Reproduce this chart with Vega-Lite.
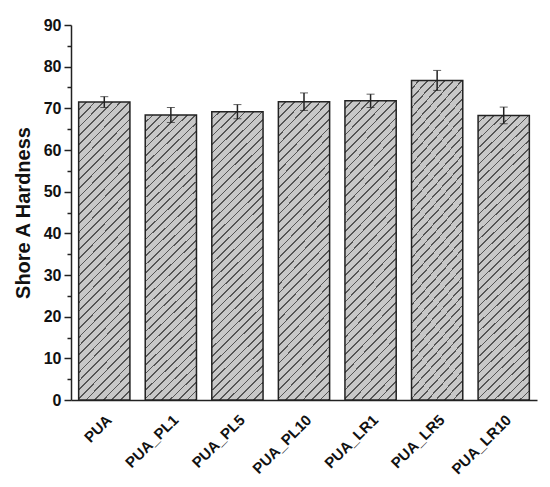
{
  "$schema": "https://vega.github.io/schema/vega-lite/v6.json",
  "width": 466,
  "height": 375,
  "autosize": {"type": "none"},
  "padding": {"left": 71, "top": 25, "right": 13, "bottom": 87},
  "background": "white",
  "config": {
    "view": {"stroke": null},
    "font": "Liberation Sans",
    "axis": {"labelFont": "Liberation Sans", "titleFont": "Liberation Sans", "labelColor": "#111", "titleColor": "#111", "domainColor": "#222", "tickColor": "#222", "grid": false}
  },
  "data": {
    "values": [
      {"sample": "PUA", "value": 71.5, "err": 1.3},
      {"sample": "PUA_PL1", "value": 68.4, "err": 1.8},
      {"sample": "PUA_PL5", "value": 69.2, "err": 1.7},
      {"sample": "PUA_PL10", "value": 71.6, "err": 2.1},
      {"sample": "PUA_LR1", "value": 71.8, "err": 1.6},
      {"sample": "PUA_LR5", "value": 76.7, "err": 2.4},
      {"sample": "PUA_LR10", "value": 68.3, "err": 2.0}
    ]
  },
  "resolve": {"axis": {"y": "independent"}},
  "layer": [
    {
      "mark": {
        "type": "bar",
        "stroke": "#222",
        "strokeWidth": 1.5,
        "fill": {
          "gradient": "linear", "x1": 0, "y1": 0, "x2": 0.2, "y2": 1.14,
          "stops": [
            {"offset":0,"color":"#c8c8c8"},{"offset":0.02,"color":"#c8c8c8"},{"offset":0.02,"color":"#555"},{"offset":0.025,"color":"#555"},
            {"offset":0.025,"color":"#c8c8c8"},{"offset":0.045,"color":"#c8c8c8"},{"offset":0.045,"color":"#555"},{"offset":0.05,"color":"#555"},
            {"offset":0.05,"color":"#c8c8c8"},{"offset":0.07,"color":"#c8c8c8"},{"offset":0.07,"color":"#555"},{"offset":0.075,"color":"#555"},
            {"offset":0.075,"color":"#c8c8c8"},{"offset":0.095,"color":"#c8c8c8"},{"offset":0.095,"color":"#555"},{"offset":0.1,"color":"#555"},
            {"offset":0.1,"color":"#c8c8c8"},{"offset":0.12,"color":"#c8c8c8"},{"offset":0.12,"color":"#555"},{"offset":0.125,"color":"#555"},
            {"offset":0.125,"color":"#c8c8c8"},{"offset":0.145,"color":"#c8c8c8"},{"offset":0.145,"color":"#555"},{"offset":0.15,"color":"#555"},
            {"offset":0.15,"color":"#c8c8c8"},{"offset":0.17,"color":"#c8c8c8"},{"offset":0.17,"color":"#555"},{"offset":0.175,"color":"#555"},
            {"offset":0.175,"color":"#c8c8c8"},{"offset":0.195,"color":"#c8c8c8"},{"offset":0.195,"color":"#555"},{"offset":0.2,"color":"#555"},
            {"offset":0.2,"color":"#c8c8c8"},{"offset":0.22,"color":"#c8c8c8"},{"offset":0.22,"color":"#555"},{"offset":0.225,"color":"#555"},
            {"offset":0.225,"color":"#c8c8c8"},{"offset":0.245,"color":"#c8c8c8"},{"offset":0.245,"color":"#555"},{"offset":0.25,"color":"#555"},
            {"offset":0.25,"color":"#c8c8c8"},{"offset":0.27,"color":"#c8c8c8"},{"offset":0.27,"color":"#555"},{"offset":0.275,"color":"#555"},
            {"offset":0.275,"color":"#c8c8c8"},{"offset":0.295,"color":"#c8c8c8"},{"offset":0.295,"color":"#555"},{"offset":0.3,"color":"#555"},
            {"offset":0.3,"color":"#c8c8c8"},{"offset":0.32,"color":"#c8c8c8"},{"offset":0.32,"color":"#555"},{"offset":0.325,"color":"#555"},
            {"offset":0.325,"color":"#c8c8c8"},{"offset":0.345,"color":"#c8c8c8"},{"offset":0.345,"color":"#555"},{"offset":0.35,"color":"#555"},
            {"offset":0.35,"color":"#c8c8c8"},{"offset":0.37,"color":"#c8c8c8"},{"offset":0.37,"color":"#555"},{"offset":0.375,"color":"#555"},
            {"offset":0.375,"color":"#c8c8c8"},{"offset":0.395,"color":"#c8c8c8"},{"offset":0.395,"color":"#555"},{"offset":0.4,"color":"#555"},
            {"offset":0.4,"color":"#c8c8c8"},{"offset":0.42,"color":"#c8c8c8"},{"offset":0.42,"color":"#555"},{"offset":0.425,"color":"#555"},
            {"offset":0.425,"color":"#c8c8c8"},{"offset":0.445,"color":"#c8c8c8"},{"offset":0.445,"color":"#555"},{"offset":0.45,"color":"#555"},
            {"offset":0.45,"color":"#c8c8c8"},{"offset":0.47,"color":"#c8c8c8"},{"offset":0.47,"color":"#555"},{"offset":0.475,"color":"#555"},
            {"offset":0.475,"color":"#c8c8c8"},{"offset":0.495,"color":"#c8c8c8"},{"offset":0.495,"color":"#555"},{"offset":0.5,"color":"#555"},
            {"offset":0.5,"color":"#c8c8c8"},{"offset":0.52,"color":"#c8c8c8"},{"offset":0.52,"color":"#555"},{"offset":0.525,"color":"#555"},
            {"offset":0.525,"color":"#c8c8c8"},{"offset":0.545,"color":"#c8c8c8"},{"offset":0.545,"color":"#555"},{"offset":0.55,"color":"#555"},
            {"offset":0.55,"color":"#c8c8c8"},{"offset":0.57,"color":"#c8c8c8"},{"offset":0.57,"color":"#555"},{"offset":0.575,"color":"#555"},
            {"offset":0.575,"color":"#c8c8c8"},{"offset":0.595,"color":"#c8c8c8"},{"offset":0.595,"color":"#555"},{"offset":0.6,"color":"#555"},
            {"offset":0.6,"color":"#c8c8c8"},{"offset":0.62,"color":"#c8c8c8"},{"offset":0.62,"color":"#555"},{"offset":0.625,"color":"#555"},
            {"offset":0.625,"color":"#c8c8c8"},{"offset":0.645,"color":"#c8c8c8"},{"offset":0.645,"color":"#555"},{"offset":0.65,"color":"#555"},
            {"offset":0.65,"color":"#c8c8c8"},{"offset":0.67,"color":"#c8c8c8"},{"offset":0.67,"color":"#555"},{"offset":0.675,"color":"#555"},
            {"offset":0.675,"color":"#c8c8c8"},{"offset":0.695,"color":"#c8c8c8"},{"offset":0.695,"color":"#555"},{"offset":0.7,"color":"#555"},
            {"offset":0.7,"color":"#c8c8c8"},{"offset":0.72,"color":"#c8c8c8"},{"offset":0.72,"color":"#555"},{"offset":0.725,"color":"#555"},
            {"offset":0.725,"color":"#c8c8c8"},{"offset":0.745,"color":"#c8c8c8"},{"offset":0.745,"color":"#555"},{"offset":0.75,"color":"#555"},
            {"offset":0.75,"color":"#c8c8c8"},{"offset":0.77,"color":"#c8c8c8"},{"offset":0.77,"color":"#555"},{"offset":0.775,"color":"#555"},
            {"offset":0.775,"color":"#c8c8c8"},{"offset":0.795,"color":"#c8c8c8"},{"offset":0.795,"color":"#555"},{"offset":0.8,"color":"#555"},
            {"offset":0.8,"color":"#c8c8c8"},{"offset":0.82,"color":"#c8c8c8"},{"offset":0.82,"color":"#555"},{"offset":0.825,"color":"#555"},
            {"offset":0.825,"color":"#c8c8c8"},{"offset":0.845,"color":"#c8c8c8"},{"offset":0.845,"color":"#555"},{"offset":0.85,"color":"#555"},
            {"offset":0.85,"color":"#c8c8c8"},{"offset":0.87,"color":"#c8c8c8"},{"offset":0.87,"color":"#555"},{"offset":0.875,"color":"#555"},
            {"offset":0.875,"color":"#c8c8c8"},{"offset":0.895,"color":"#c8c8c8"},{"offset":0.895,"color":"#555"},{"offset":0.9,"color":"#555"},
            {"offset":0.9,"color":"#c8c8c8"},{"offset":0.92,"color":"#c8c8c8"},{"offset":0.92,"color":"#555"},{"offset":0.925,"color":"#555"},
            {"offset":0.925,"color":"#c8c8c8"},{"offset":0.945,"color":"#c8c8c8"},{"offset":0.945,"color":"#555"},{"offset":0.95,"color":"#555"},
            {"offset":0.95,"color":"#c8c8c8"},{"offset":0.97,"color":"#c8c8c8"},{"offset":0.97,"color":"#555"},{"offset":0.975,"color":"#555"},
            {"offset":0.975,"color":"#c8c8c8"},{"offset":0.995,"color":"#c8c8c8"},{"offset":0.995,"color":"#555"},{"offset":1,"color":"#555"}
          ]
        }
      },
      "encoding": {
        "x": {
          "field": "sample", "type": "nominal", "sort": null,
          "scale": {"paddingInner": 0.23, "paddingOuter": 0.115},
          "axis": {"title": null, "labelAngle": -45, "labelAlign": "right", "labelBaseline": "top", "labelFontSize": 15, "labelFontWeight": "bold", "ticks": false, "labelPadding": 12, "domainWidth": 1.5}
        },
        "y": {
          "field": "value", "type": "quantitative",
          "scale": {"domain": [0, 90], "nice": false, "zero": true},
          "axis": {"title": "Shore A Hardness", "titleFontSize": 20, "titleFontWeight": "bold", "titlePadding": 10, "values": [0, 10, 20, 30, 40, 50, 60, 70, 80, 90], "labelFontSize": 16, "labelFontWeight": "bold", "tickSize": 7, "tickWidth": 1.5, "domainWidth": 1.5, "labelPadding": 3, "orient": "left"}
        }
      }
    },
    {
      "mark": {"type": "errorbar", "ticks": {"size": 8, "color": "#222", "strokeWidth": 1.5}, "rule": {"color": "#222", "strokeWidth": 1.5}},
      "encoding": {
        "x": {"field": "sample", "type": "nominal", "sort": null},
        "y": {
          "field": "value", "type": "quantitative",
          "axis": {"title": null, "orient": "left", "values": [5, 15, 25, 35, 45, 55, 65, 75, 85], "labels": false, "domain": false, "tickSize": 4, "tickWidth": 1.5, "tickColor": "#222"}
        },
        "yError": {"field": "err"}
      }
    }
  ]
}
